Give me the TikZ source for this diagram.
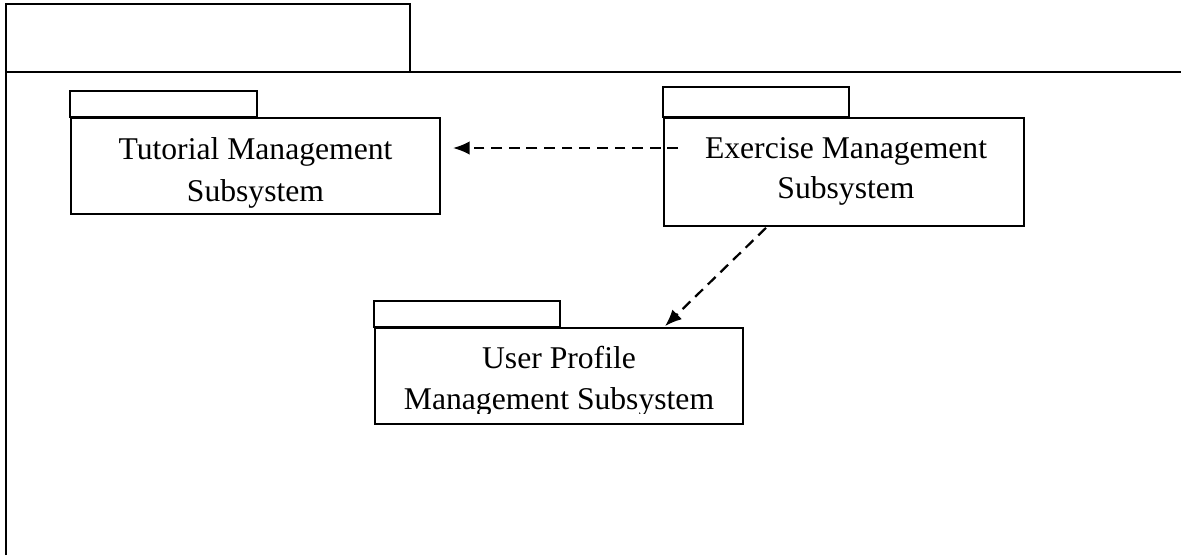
\documentclass[tikz,border=0pt]{standalone}
\usepackage{fontspec}
\setmainfont{Liberation Serif}
\usetikzlibrary{arrows.meta}

\tikzset{
  pkg/.style={draw, rectangle, inner sep=0pt},
  pkgtext/.style={anchor=base, inner sep=0pt, font=\fontsize{22.5}{27}\selectfont},
  dep/.style={line width=1.6pt, dash pattern=on 0.27cm off 0.17cm, -{Latex[length=0.42cm,width=0.34cm]}},
}

\begin{document}
\begin{tikzpicture}[x=0.025cm, y=-0.025cm, line width=1.2pt]
  \useasboundingbox (0,0) rectangle (1181,555);

  % outer package frame
  \draw (6,555) -- (6,4) -- (410,4) -- (410,72);
  \draw (6,72) -- (1181,72);

  % package bodies
  \node[pkg, minimum width=9.225cm, minimum height=2.4cm] (tut) at (255.5,166) {};
  \node[pkg, minimum width=9cm,     minimum height=2.7cm] (ex)  at (844,172)   {};
  \node[pkg, minimum width=9.2cm,   minimum height=2.4cm] (usr) at (559,376)   {};

  % tabs
  \draw (tut.north west) rectangle ++(187,-26);
  \draw (ex.north west)  rectangle ++(186,-30);
  \draw (usr.north west) rectangle ++(186,-26);

  % labels
  \begin{scope}
    \clip (tut.north west) rectangle ([shift={(0,-7)}]tut.south east);
    \node[pkgtext] (tutA) at (255.5,159) {Tutorial Management};
    \node[pkgtext] (tutB) at (255.5,201) {Subsystem};
  \end{scope}

  \node[pkgtext] (exA) at (846,158) {Exercise Management};
  \node[pkgtext] (exB) at (846,198) {Subsystem};

  \begin{scope}
    \clip (usr.north west) rectangle ([shift={(0,-11)}]usr.south east);
    \node[pkgtext] (usrA) at (559,368) {User Profile};
    \node[pkgtext] (usrB) at (559,409) {Management Subsystem};
  \end{scope}

  % dependencies
  \draw[dep] ([shift={(15,-24)}]ex.west) -- ([shift={(12,-18)}]tut.east);
  \draw[dep] ([shift={(-78,1)}]ex.south) -- ([shift={(106,-1)}]usr.north);
\end{tikzpicture}
\end{document}
